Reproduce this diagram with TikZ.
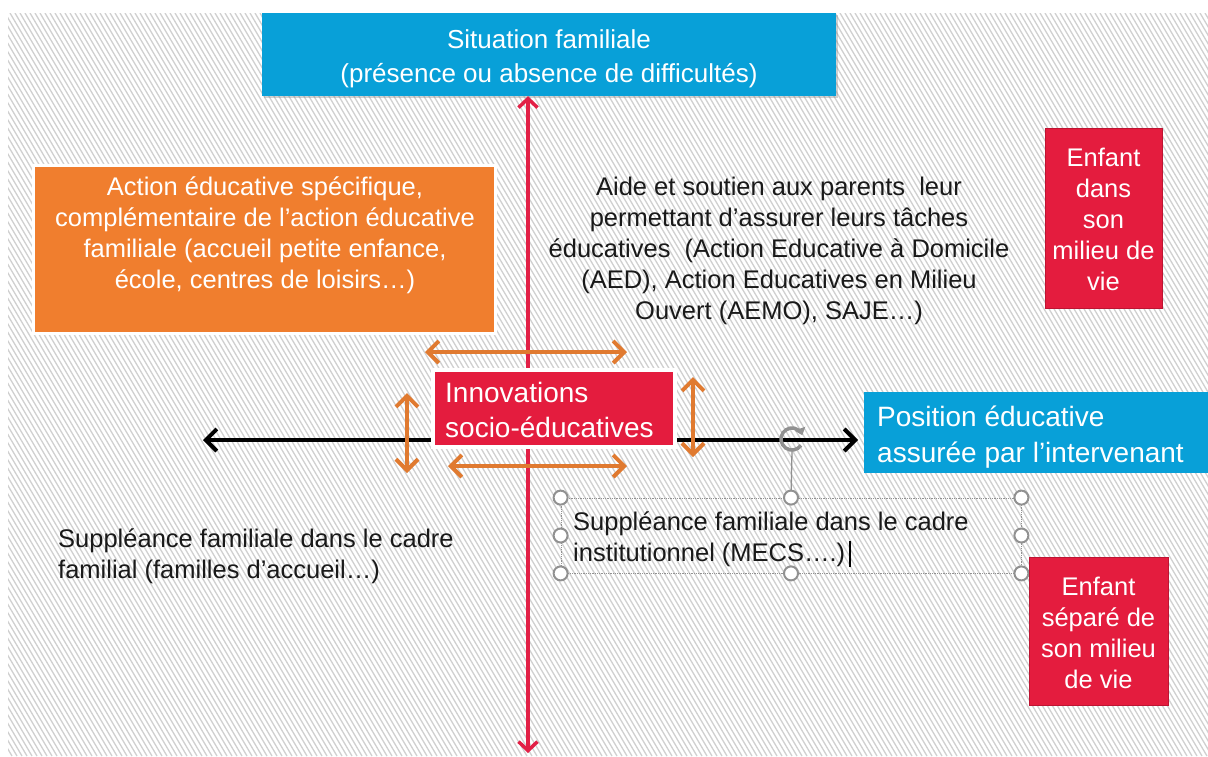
\documentclass[tikz,border=0pt]{standalone}
\usepackage{fontspec}
\setmainfont{Liberation Sans}
\usetikzlibrary{arrows.meta,shadows}
\definecolor{cblue}{RGB}{8,160,216}
\definecolor{corange}{RGB}{240,126,46}
\definecolor{cred}{RGB}{228,28,62}
\definecolor{credline}{RGB}{190,20,50}
\definecolor{carrow}{RGB}{226,32,70}
\definecolor{oarrow}{RGB}{224,122,48}
\definecolor{chatch}{RGB}{208,208,208}
\definecolor{handlegray}{RGB}{145,145,145}
\definecolor{ctext}{RGB}{25,25,25}
\begin{document}
\begin{tikzpicture}[x=1pt,y=-1pt,
  shade/.style={drop shadow={opacity=0.35,shadow xshift=2pt,shadow yshift=-2pt}},
  boxplain/.style={rectangle, inner sep=0pt},
  wtxt/.style={text=white, font=\fontsize{25.5}{31}\selectfont, inner sep=0pt, align=center},
  btxt/.style={text=ctext, font=\fontsize{25.5}{31}\selectfont, inner sep=0pt, align=center},
  bigtxt/.style={text=white, font=\fontsize{28}{35}\selectfont, inner sep=0pt, align=left},
  redarr/.style={draw=carrow, line width=3.5pt, {Straight Barb[length=9pt,width=19pt,line width=3.5pt]}-{Straight Barb[length=9pt,width=19pt,line width=3.5pt]}},
  blackarr/.style={draw=black, line width=4pt, {Straight Barb[length=11pt,width=22pt,line width=4pt]}-{Straight Barb[length=11pt,width=22pt,line width=4pt]}},
  orarr/.style={draw=oarrow, line width=4pt, {Straight Barb[length=11pt,width=22pt,line width=4pt]}-{Straight Barb[length=11pt,width=22pt,line width=4pt]}},
  handle/.style={circle, draw=handlegray, fill=white, line width=2pt, minimum size=14pt, inner sep=0pt}
]
\useasboundingbox (0,0) rectangle (1208,756);
\fill[white] (0,0) rectangle (1208,756);
% hatched background
\begin{scope}
\clip (8,13) rectangle (1208,756);
\foreach \i in {-440,-435,...,1210} \draw[chatch, line width=1.3pt] (\i,13) -- ++(437,743);
\end{scope}

% coordinates for free ends
\coordinate (rbot) at (528,753);
\coordinate (bleft) at (203,440);
\coordinate (bright) at (858,440);

% top box
\node[boxplain, fill=cblue, minimum width=574pt, minimum height=83pt, shade] (situation) at (549,54.5) {};
\node[wtxt, font=\fontsize{26}{34}\selectfont] (situationtxt) at (549,59) {Situation familiale\\(présence ou absence de difficultés)};

% axes
\draw[redarr] (rbot |- situation.south) -- (rbot);
\draw[blackarr] (bleft) -- (bright);

% orange box
\node[boxplain, fill=corange, draw=white, line width=3pt, minimum width=462pt, minimum height=168pt, shade] (action) at (264,249) {};
\node[wtxt] (actiontxt) at (265,235) {Action éducative spécifique,\\complémentaire de l’action éducative\\familiale (accueil petite enfance,\\école, centres de loisirs…)};

% right text
\node[btxt] (aide) at (779,251) {Aide et soutien aux parents\ \ leur\\permettant d’assurer leurs tâches\\éducatives\ \ (Action Educative à Domicile\\(AED), Action Educatives en Milieu\\Ouvert (AEMO), SAJE…)};

% Enfant dans son milieu de vie
\node[boxplain, fill=cred, draw=credline, line width=0.8pt, minimum width=117pt, minimum height=180pt] (enfant1) at (1103.5,218) {};
\node[wtxt] (enfant1txt) at (1103.5,219) {Enfant\\dans\\son\\milieu de\\vie};

% Innovations box
\node[boxplain, fill=cred, draw=white, line width=3.5pt, minimum width=242pt, minimum height=77pt, shade] (innov) at (554,408.5) {};
\node[bigtxt, anchor=west] (innovtxt) at (445,410) {Innovations\\socio-éducatives};

% orange arrows
\coordinate (o1a) at (425,352); \coordinate (o1b) at (627,352);
\coordinate (o2a) at (448,466); \coordinate (o2b) at (627,466);
\coordinate (o3a) at (407,393); \coordinate (o3b) at (407,473);
\coordinate (o4a) at (693,377); \coordinate (o4b) at (693,457);
\draw[orarr] (o1a) -- (o1b);
\draw[orarr] (o2a) -- (o2b);
\draw[orarr] (o3a) -- (o3b);
\draw[orarr] (o4a) -- (o4b);

% Position box
\node[boxplain, fill=cblue, minimum width=344pt, minimum height=81pt] (position) at (1036,432.5) {};
\node[bigtxt, anchor=west, font=\fontsize{28}{36}\selectfont] (positiontxt) at (877,437) {Position éducative\\assurée par l’intervenant};

% left text
\node[btxt, align=left, anchor=west] (suppl1) at (58,556) {Suppléance familiale dans le cadre\\familial (familles d’accueil…)};

% selected text box
\node[boxplain, draw=handlegray, densely dotted, line width=0.8pt, minimum width=460pt, minimum height=75pt] (sel) at (791,535.5) {};
\node[btxt, align=left, anchor=west] (suppl2) at (573,539.5) {Suppléance familiale dans le cadre\\institutionnel (MECS….)};
\coordinate (cur1) at (850,541); \coordinate (cur2) at (850,567);
\draw[black, line width=1.6pt] (cur1) -- (cur2);
\coordinate (rot) at (792,439);
\draw[handlegray, line width=1.3pt] (sel.north) -- ([yshift=-12pt]rot);
\draw[handlegray, line width=3.5pt, -{Triangle[length=7pt,width=11pt]}] (rot) ++(35:11) arc[start angle=35, end angle=340, radius=11];
\foreach \p/\n in {north west/h1, north/h2, north east/h3, west/h4, east/h5, south west/h6, south/h7, south east/h8}
  \node[handle] (\n) at (sel.\p) {};

% Enfant separe
\node[boxplain, fill=cred, draw=credline, line width=0.8pt, minimum width=139pt, minimum height=148pt] (enfant2) at (1098.5,631) {};
\node[wtxt] (enfant2txt) at (1098.5,633) {Enfant\\séparé de\\son milieu\\de vie};
\end{tikzpicture}
\end{document}
